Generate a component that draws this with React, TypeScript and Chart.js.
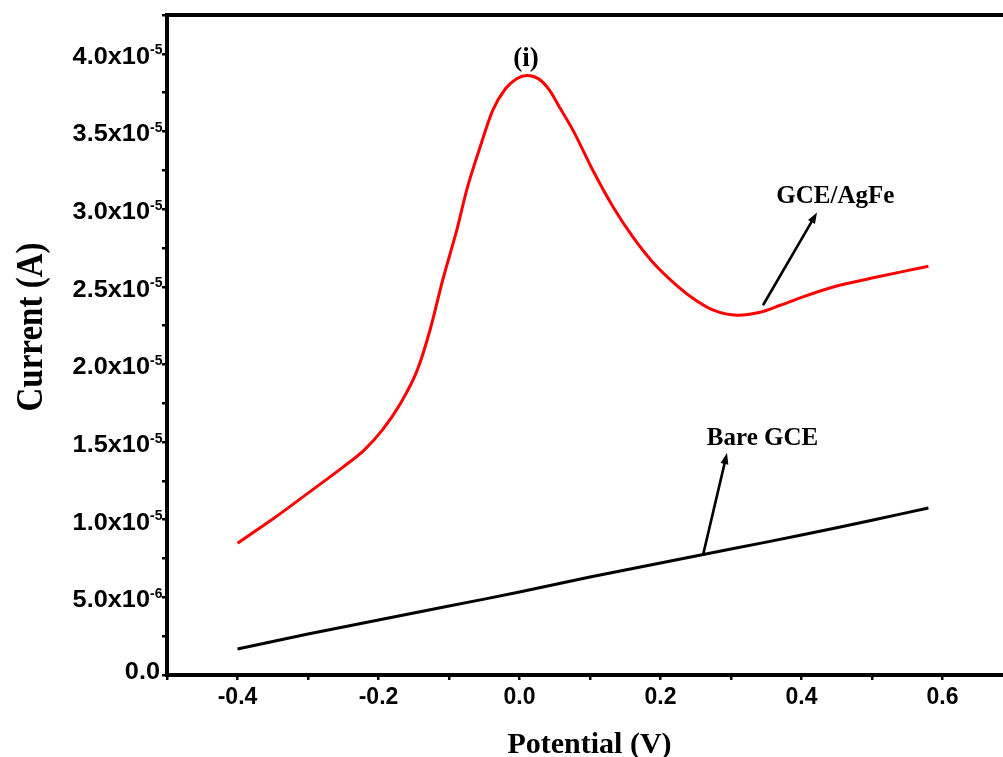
import React, { useEffect, useRef } from "react";
import { Chart, registerables } from "chart.js";

Chart.register(...registerables);

// ---- data (Potential in V, Current in A) ----
const agfePotential = [
  -0.4, -0.35, -0.3, -0.25, -0.22, -0.195, -0.17, -0.145, -0.127, -0.109, -0.089, -0.075,
  -0.056, -0.038, -0.02, -0.004, 0.011, 0.026, 0.042, 0.057, 0.076, 0.104, 0.133, 0.161,
  0.189, 0.218, 0.246, 0.275, 0.309, 0.341, 0.37, 0.4, 0.45, 0.5, 0.55, 0.58,
];
const agfeCurrent = [
  8.49e-6, 1.004e-5, 1.171e-5, 1.34e-5, 1.45e-5, 1.575e-5, 1.74e-5, 1.963e-5, 2.22e-5,
  2.542e-5, 2.864e-5, 3.121e-5, 3.398e-5, 3.636e-5, 3.775e-5, 3.84e-5, 3.861e-5, 3.842e-5,
  3.77e-5, 3.655e-5, 3.507e-5, 3.25e-5, 3.012e-5, 2.819e-5, 2.658e-5, 2.529e-5, 2.426e-5,
  2.349e-5, 2.317e-5, 2.336e-5, 2.381e-5, 2.432e-5, 2.505e-5, 2.556e-5, 2.604e-5, 2.632e-5,
];
const barePotential = [-0.4, -0.3, -0.2, -0.1, 0.0, 0.1, 0.2, 0.3, 0.4, 0.5, 0.58];
const bareCurrent = [
  1.67e-6, 2.64e-6, 3.54e-6, 4.44e-6, 5.34e-6, 6.31e-6, 7.21e-6, 8.11e-6, 9.01e-6, 9.97e-6,
  1.075e-5,
];

// ---- axis ticks ----
const yTickValues = [0, 5e-6, 1e-5, 1.5e-5, 2e-5, 2.5e-5, 3e-5, 3.5e-5, 4e-5];
const yTickMantissa = ["0.0", "5.0", "1.0", "1.5", "2.0", "2.5", "3.0", "3.5", "4.0"];
const yTickExponent = ["", "-6", "-5", "-5", "-5", "-5", "-5", "-5", "-5"];

// ---- annotations (data coordinates) ----
const noteText = ["(i)", "GCE/AgFe", "Bare GCE"];
const noteX = [0.0092, 0.448, 0.3447];
const noteY = [3.92e-5, 3.037e-5, 1.48e-5];
const noteSize = [27, 25, 25];

const arrowFromX = [0.3454, 0.2603];
const arrowFromY = [2.381e-5, 7.72e-6];
const arrowToX = [0.422, 0.2943];
const arrowToY = [2.979e-5, 1.429e-5];

const SANS = "'Liberation Sans', Arial, sans-serif";
const SERIF = "'Liberation Serif', 'Times New Roman', serif";

function drawArrow(ctx: CanvasRenderingContext2D, x1: number, y1: number, x2: number, y2: number) {
  const ang = Math.atan2(y2 - y1, x2 - x1);
  const head = 11;
  const hw = 4;
  const c = Math.cos(ang);
  const s = Math.sin(ang);
  ctx.strokeStyle = "#000";
  ctx.fillStyle = "#000";
  ctx.lineWidth = 2.6;
  ctx.beginPath();
  ctx.moveTo(x1, y1);
  ctx.lineTo(x2 - c * head * 0.7, y2 - s * head * 0.7);
  ctx.stroke();
  ctx.beginPath();
  ctx.moveTo(x2, y2);
  ctx.lineTo(x2 - c * head - s * hw, y2 - s * head + c * hw);
  ctx.lineTo(x2 - c * head + s * hw, y2 - s * head - c * hw);
  ctx.closePath();
  ctx.fill();
}

const decorPlugin = {
  id: "decor",
  afterDraw(chart: any) {
    const { ctx, chartArea: ca, scales } = chart;
    const xs = scales.x;
    const ys = scales.y;
    ctx.save();

    // frame
    ctx.strokeStyle = "#000";
    ctx.lineWidth = 4;
    ctx.strokeRect(ca.left, ca.top, ca.right - ca.left, ca.bottom - ca.top);

    // y tick labels with superscript exponents
    ctx.fillStyle = "#000";
    ctx.textBaseline = "alphabetic";
    yTickValues.forEach((v, i) => {
      const py = ys.getPixelForValue(v);
      const exp = yTickExponent[i];
      ctx.font = `bold 23px ${SANS}`;
      ctx.textAlign = "right";
      if (!exp) {
        ctx.save();
        ctx.translate(ca.left - 7, py + 4);
        ctx.scale(1.1, 1);
        ctx.fillText(yTickMantissa[i], 0, 0);
        ctx.restore();
      } else {
        ctx.save();
        ctx.translate(ca.left - 17, py + 10);
        ctx.scale(1.1, 1);
        ctx.fillText(yTickMantissa[i] + "x10", 0, 0);
        ctx.restore();
        ctx.font = `bold 14px ${SANS}`;
        ctx.textAlign = "left";
        ctx.fillText(exp, ca.left - 17, py + 0.5);
      }
    });

    // axis titles
    ctx.font = `bold 30px ${SERIF}`;
    ctx.textAlign = "center";
    ctx.textBaseline = "alphabetic";
    ctx.fillText("Potential (V)", (ca.left + ca.right) / 2 - 0.5, ca.bottom + 78);

    ctx.save();
    ctx.translate(42, (ca.top + ca.bottom) / 2 - 18);
    ctx.rotate(-Math.PI / 2);
    ctx.scale(1, 1.12);
    ctx.font = `bold 33px ${SERIF}`;
    ctx.textAlign = "center";
    ctx.textBaseline = "alphabetic";
    ctx.fillText("Current (A)", 0, 0);
    ctx.restore();

    // annotations
    noteText.forEach((t, i) => {
      ctx.font = `bold ${noteSize[i]}px ${SERIF}`;
      ctx.textAlign = "center";
      ctx.textBaseline = "alphabetic";
      ctx.fillStyle = "#000";
      ctx.fillText(t, xs.getPixelForValue(noteX[i]), ys.getPixelForValue(noteY[i]));
    });
    arrowFromX.forEach((_, i) => {
      drawArrow(
        ctx,
        xs.getPixelForValue(arrowFromX[i]),
        ys.getPixelForValue(arrowFromY[i]),
        xs.getPixelForValue(arrowToX[i]),
        ys.getPixelForValue(arrowToY[i])
      );
    });

    ctx.restore();
  },
};

export default function App() {
  const ref = useRef<HTMLCanvasElement>(null);

  useEffect(() => {
    const canvas = ref.current;
    if (!canvas) return;
    const chart = new Chart(canvas, {
      type: "line",
      data: {
        datasets: [
          {
            label: "Bare GCE",
            data: barePotential.map((x, i) => ({ x, y: bareCurrent[i] })),
            borderColor: "#000000",
            borderWidth: 3,
            pointRadius: 0,
            tension: 0.4,
            fill: false,
          },
          {
            label: "GCE/AgFe",
            data: agfePotential.map((x, i) => ({ x, y: agfeCurrent[i] })),
            borderColor: "#ff0000",
            borderWidth: 3,
            pointRadius: 0,
            cubicInterpolationMode: "monotone",
            fill: false,
          },
        ],
      },
      options: {
        responsive: false,
        maintainAspectRatio: false,
        devicePixelRatio: 1,
        animation: false,
        layout: { padding: { top: 15, right: 7, left: 0, bottom: 0 } },
        plugins: {
          legend: { display: false },
          tooltip: { enabled: false },
        },
        scales: {
          x: {
            type: "linear",
            min: -0.5,
            max: 0.7,
            afterFit: (scale: any) => {
              scale.height = 82;
            },
            border: { display: false },
            grid: {
              display: true,
              drawOnChartArea: false,
              drawTicks: true,
              tickLength: 5,
              lineWidth: 2.5,
              color: "#000",
            },
            ticks: {
              stepSize: 0.1,
              maxTicksLimit: 100,
              autoSkip: false,
              maxRotation: 0,
              padding: 4,
              color: "#000",
              font: { family: SANS, size: 23, weight: "bold" },
              callback: (v: any) => {
                const n = Math.round(Number(v) * 10);
                if (Math.abs(n) % 2 === 1) return "";
                return n === 0 ? "0.0" : (n / 10).toFixed(1);
              },
            },
          },
          y: {
            type: "linear",
            min: 0,
            max: 4.25e-5,
            afterFit: (scale: any) => {
              scale.width = 167;
            },
            border: { display: false },
            grid: {
              display: true,
              drawOnChartArea: false,
              drawTicks: true,
              tickLength: 5,
              lineWidth: 2.5,
              color: "#000",
            },
            ticks: {
              stepSize: 2.5e-6,
              maxTicksLimit: 100,
              autoSkip: false,
              callback: () => "",
            },
          },
        },
      },
      plugins: [decorPlugin],
    } as any);
    return () => chart.destroy();
  }, []);

  return (
    <div
      style={{
        position: "fixed",
        left: 0,
        top: 0,
        width: 1003,
        height: 757,
        overflow: "hidden",
        background: "#ffffff",
      }}
    >
      <canvas ref={ref} width={1020} height={757} style={{ display: "block", width: 1020, height: 757 }} />
    </div>
  );
}
